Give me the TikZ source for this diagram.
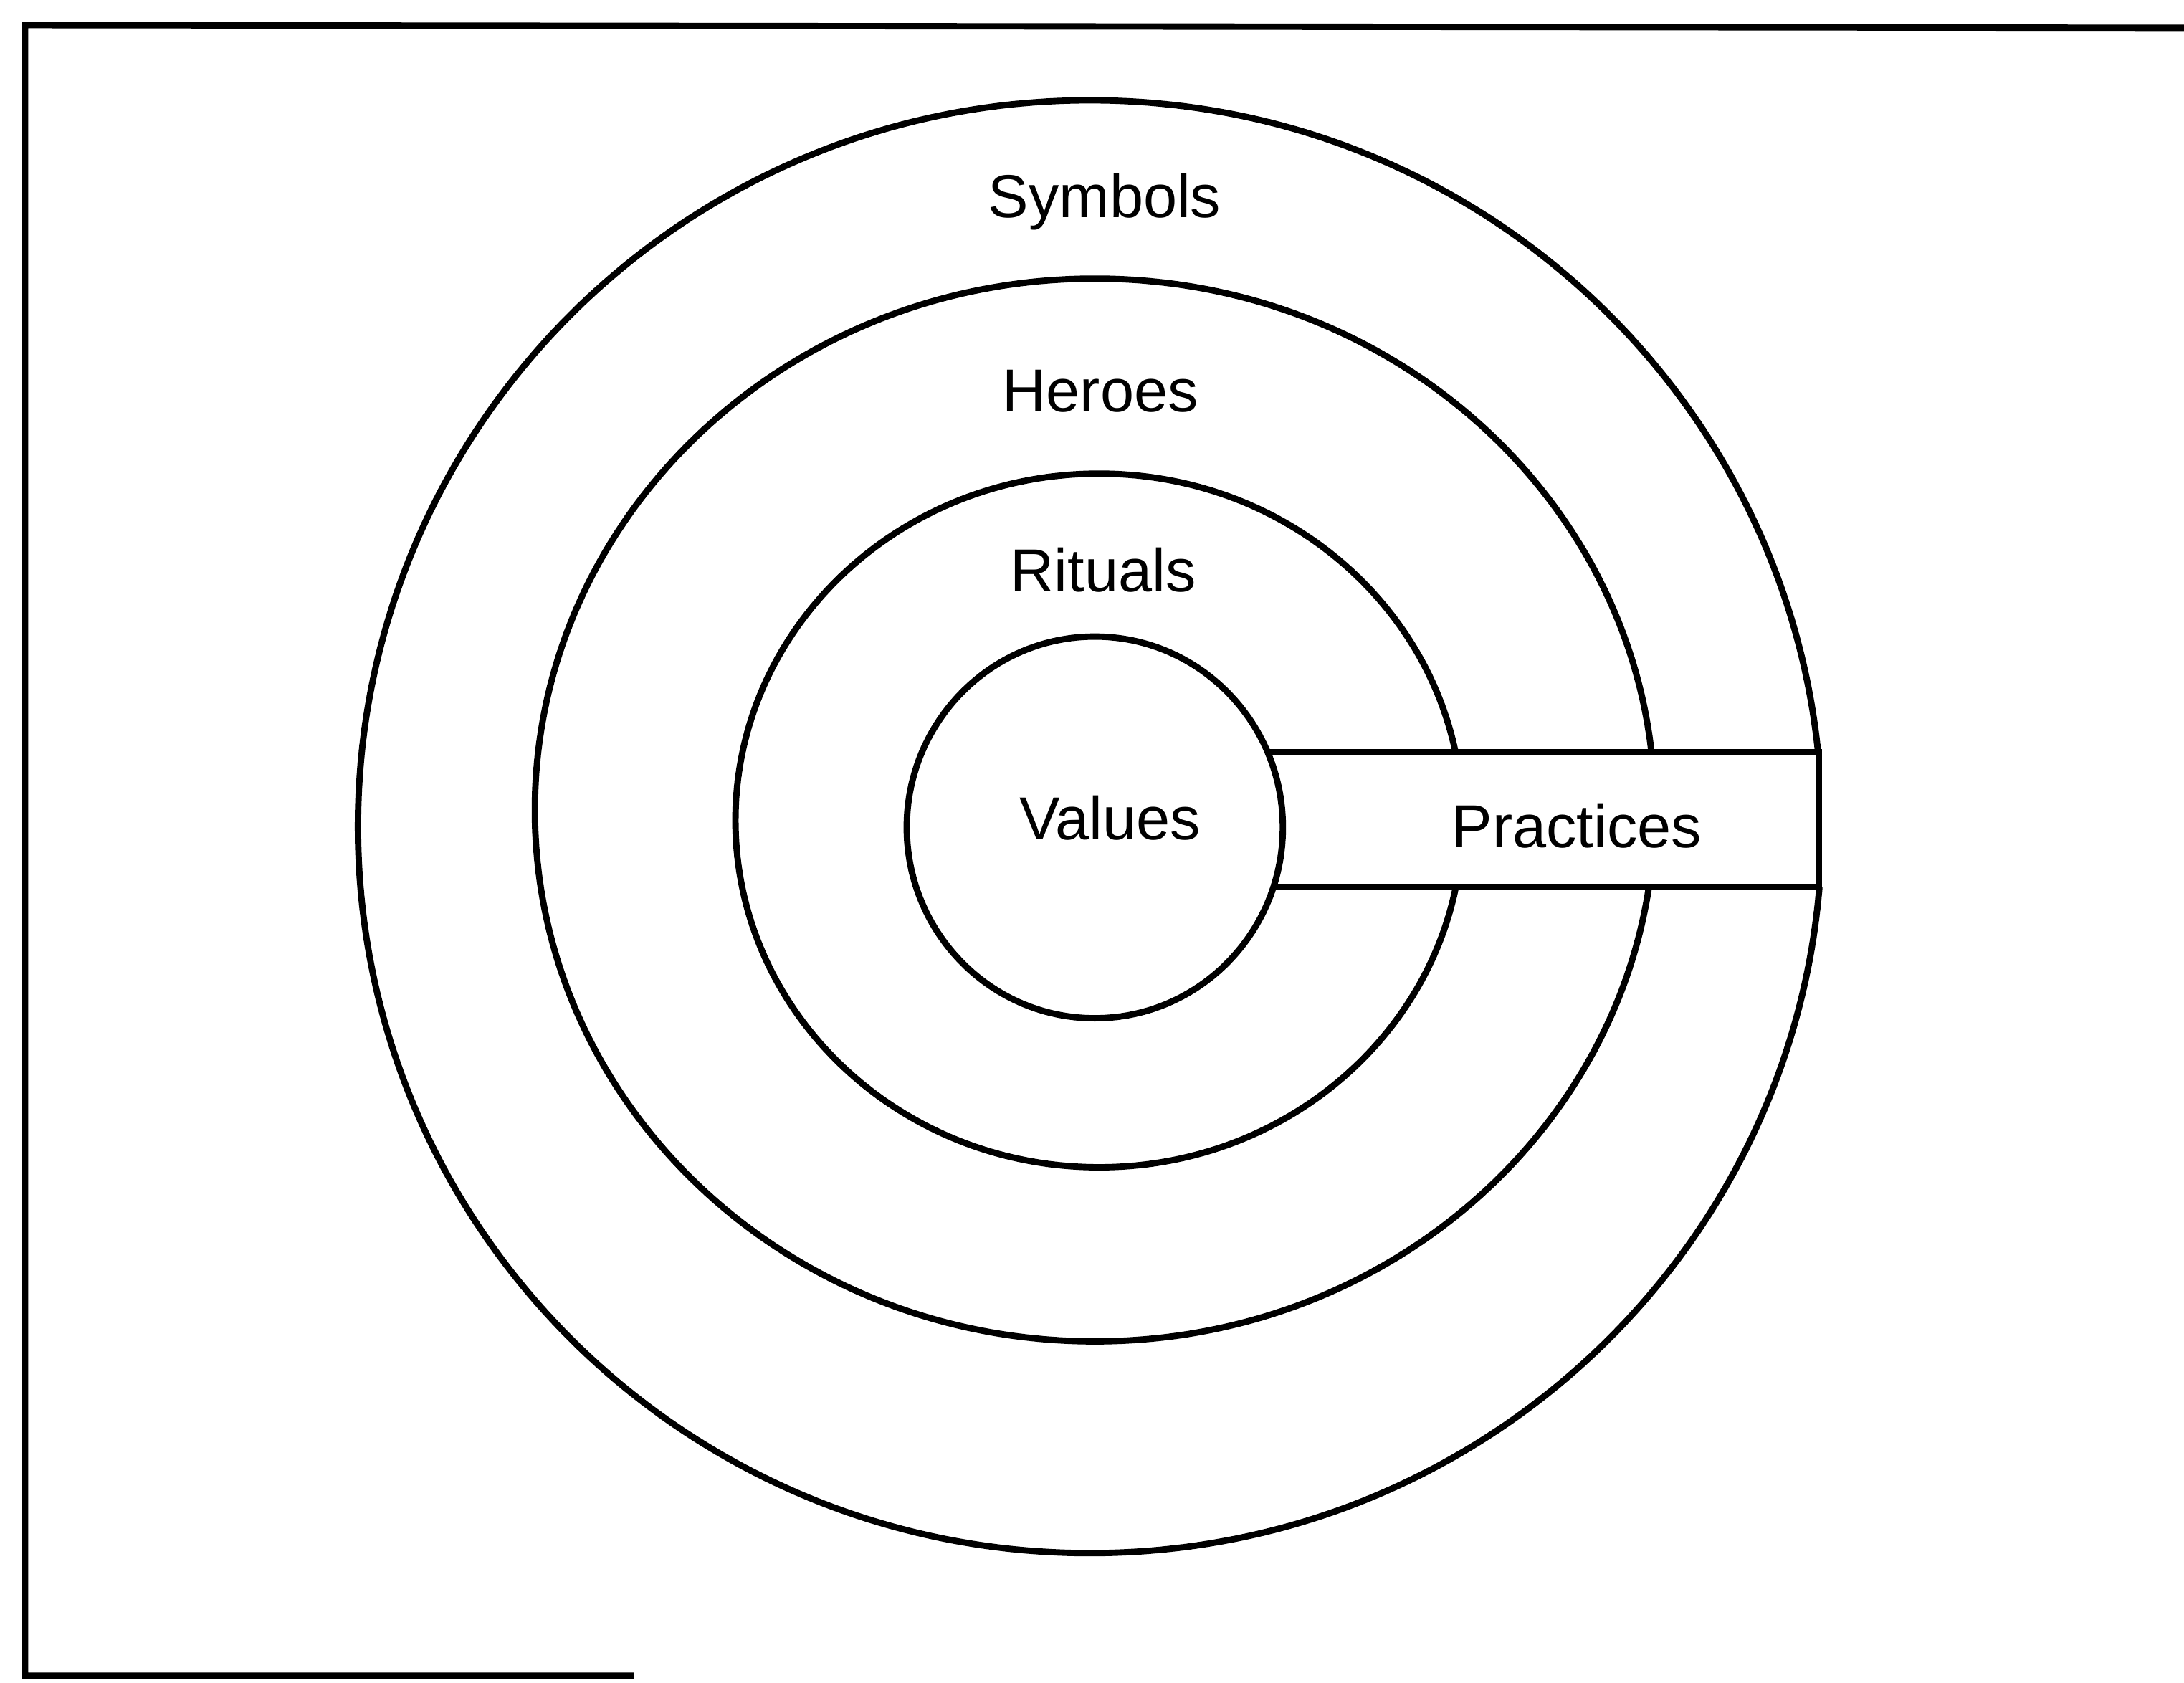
\documentclass[tikz,border=0pt]{standalone}
\usepackage{fontspec}
\setmainfont{Liberation Sans}
\begin{document}
\begin{tikzpicture}[
  ring/.style={line width=1.3pt},
  lbl/.style={font=\fontsize{12.4}{14}\selectfont, inner sep=0pt, anchor=center}
]
\useasboundingbox (0,0) rectangle (15.68,-12.08);
% frame
\coordinate (ftl) at (0.18,-0.18);
\coordinate (ftr) at (15.68,-0.20);
\coordinate (fbl) at (0.18,-12.03);
\coordinate (fbr) at (4.55,-12.03);
\draw[line width=1.3pt] (ftr) -- (ftl) -- (fbl) -- (fbr);
% rings
\draw[ring] (7.825,-5.935) ellipse [x radius=5.255, y radius=5.215];
\draw[ring] (7.86,-5.815) ellipse [x radius=4.02, y radius=3.815];
\draw[ring] (7.89,-5.89) ellipse [x radius=2.61, y radius=2.49];
\draw[ring] (7.86,-5.94) ellipse [x radius=1.35, y radius=1.37];
% practices band
\fill[white] (9.3,-5.40) rectangle (13.2,-6.37);
\coordinate (pt1) at (9.101,-5.40);
\coordinate (pt2) at (13.06,-5.40);
\coordinate (pb1) at (9.142,-6.37);
\coordinate (pb2) at (13.06,-6.37);
\draw[ring] (pt1) -- (pt2) -- (pb2) -- (pb1);
% labels
\node[lbl] (symbols) at (7.93,-1.45) {Symbols};
\node[lbl] (heroes) at (7.90,-2.81) {Heroes};
\node[lbl] (rituals) at (7.92,-4.09) {Rituals};
\node[lbl] (values) at (7.97,-5.87) {Values};
\node[lbl] (practices) at (11.32,-5.93) {Practices};
\end{tikzpicture}
\end{document}
